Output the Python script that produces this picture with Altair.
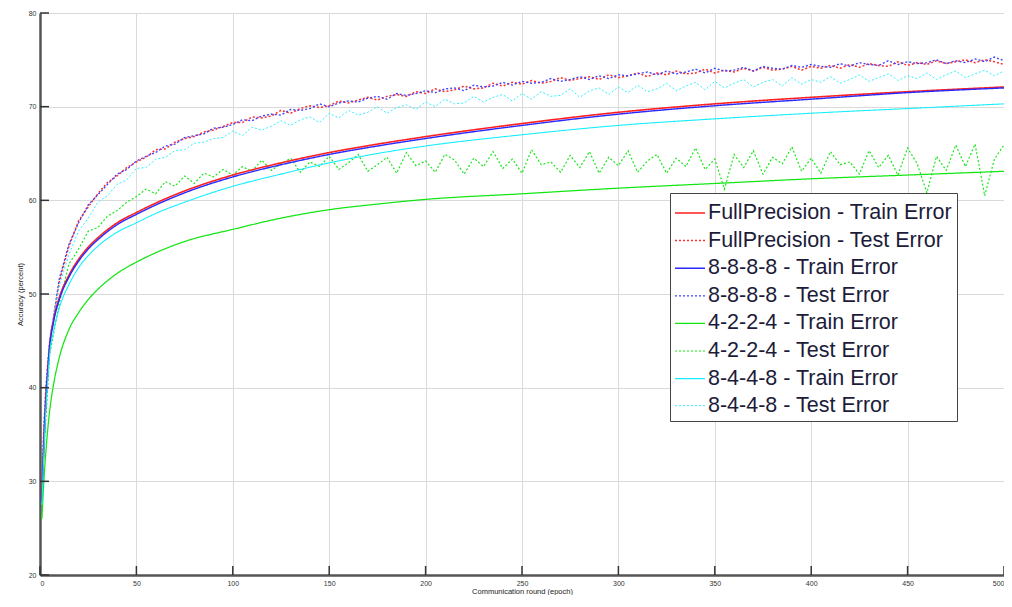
import altair as alt
import pandas as pd

# ---------------- data ----------------
SERIES = [
    "FullPrecision - Train Error",
    "FullPrecision - Test Error",
    "8-8-8-8 - Train Error",
    "8-8-8-8 - Test Error",
    "4-2-2-4 - Train Error",
    "4-2-2-4 - Test Error",
    "8-4-4-8 - Train Error",
    "8-4-4-8 - Test Error",
]
COLORS = ["#ff2020", "#ff3030", "#2a2aff", "#4040ff", "#14e614", "#14e614", "#14eeff", "#30f0ff"]
DASHES = [[1, 0], [2, 2], [1, 0], [2, 2], [1, 0], [2, 2], [1, 0], [2, 2]]
WIDTHS = [1.6, 1.0, 3.0, 1.0, 1.6, 1.0, 1.6, 1.0]

train_epochs = [1, 2, 3, 4, 5, 7, 10, 15, 20, 25, 30, 40, 50, 60, 75, 100, 125, 150, 175, 200,
                250, 300, 350, 400, 450, 500]
fp_train = [28.0, 34.0, 38.5, 41.7, 44.5, 47.2, 49.6, 52.0, 53.7, 55.0, 56.0, 57.6, 58.7, 59.7, 61.0,
            62.7, 64.0, 65.1, 66.0, 66.8, 68.2, 69.4, 70.3, 71.0, 71.6, 72.1]
b8_train = [27.8, 33.8, 38.3, 41.5, 44.3, 47.0, 49.4, 51.8, 53.5, 54.8, 55.8, 57.4, 58.5, 59.5, 60.8,
            62.5, 63.8, 64.9, 65.8, 66.6, 68.0, 69.2, 70.1, 70.8, 71.5, 72.0]
g4_train = [26.0, 30.0, 33.0, 35.5, 37.5, 40.3, 43.2, 46.2, 48.0, 49.4, 50.5, 52.2, 53.4, 54.4, 55.6,
            56.9, 58.1, 59.0, 59.6, 60.1, 60.7, 61.3, 61.8, 62.3, 62.7, 63.1]
c8_train = [27.5, 33.0, 37.5, 40.7, 43.5, 46.0, 48.5, 51.0, 52.8, 54.1, 55.1, 56.6, 57.6, 58.6, 59.8,
            61.5, 62.8, 64.0, 65.0, 65.8, 67.0, 68.0, 68.7, 69.3, 69.8, 70.3]

test_epochs = [1, 2, 3, 4] + list(range(5, 501, 5))
fp_test = [29.5, 35.5, 39.5, 42.3,
    44.6, 51.3, 55.1, 57.8, 59.3, 60.7, 61.9, 62.6, 63.5, 64.1, 64.6, 65.4, 65.5, 66.2, 66.6, 66.8, 67.3, 67.5, 67.9,
    68.3, 68.3, 68.9, 68.8, 69.0, 69.6, 69.3, 69.8, 70.1, 69.9,
    70.1, 70.6, 70.4, 70.7, 71.0, 70.7, 71.1, 71.3, 71.1, 71.6,
    71.4, 71.9, 71.6, 71.8, 72.2, 71.9, 72.0, 72.5, 72.2, 72.6,
    72.4, 72.8, 72.5, 72.7, 73.1, 72.8, 73.0, 73.2, 72.9, 73.4,
    73.1, 73.3, 73.6, 73.2, 73.6, 73.4, 73.8, 73.5, 73.6, 74.0,
    73.6, 73.9, 73.7, 74.1, 73.8, 74.2, 73.9, 74.0, 74.3, 73.9,
    74.3, 74.1, 74.4, 74.1, 74.5, 74.2, 74.6, 74.4, 74.3, 74.8,
    74.4, 74.7, 74.5, 74.9, 74.6, 74.8, 75.0, 74.7, 75.0, 74.8,
    74.5]
b8_test = [29.8, 35.8, 39.8, 42.6,
    44.9, 51.6, 55.3, 57.6, 59.5, 60.6, 61.7, 62.8, 63.3, 64.2, 64.7, 65.1, 65.8, 66.0, 66.7, 66.9, 67.1, 67.7, 67.8,
    68.1, 68.6, 68.5, 69.0, 69.2, 69.1, 69.7, 69.6, 69.8, 70.3,
    70.0, 70.4, 70.6, 70.5, 70.9, 71.1, 70.8, 71.4, 71.2, 71.4,
    71.7, 71.5, 71.9, 72.0, 71.7, 72.3, 72.1, 72.2, 72.6, 72.3,
    72.7, 72.5, 72.6, 73.0, 72.7, 72.9, 73.2, 72.9, 73.3, 73.0,
    73.4, 73.3, 73.5, 73.7, 73.4, 73.8, 73.5, 73.7, 74.0, 73.6,
    74.1, 73.8, 73.9, 74.2, 73.8, 74.3, 74.1, 74.0, 74.4, 74.2,
    74.5, 74.3, 74.2, 74.6, 74.3, 74.7, 74.5, 74.4, 74.9, 74.5,
    74.8, 74.6, 74.7, 75.0, 74.6, 74.9, 74.7, 75.1, 74.8, 75.3,
    74.9]
g4_test = [27.5, 32.5, 36.5, 40.0,
    43.5, 49.0, 53.2, 54.8, 56.7, 57.1, 58.3, 58.9, 59.8, 60.4, 61.2, 60.7, 62.0, 61.5, 62.6, 61.8, 62.9, 62.5, 63.3,
    62.7, 63.6, 63.1, 64.3, 63.2, 63.9, 64.5, 63.0, 64.1, 63.6,
    64.7, 63.3, 64.0, 64.9, 63.1, 63.8, 64.6, 62.9, 65.1, 63.7,
    64.2, 63.0, 64.9, 64.3, 62.8, 64.5, 63.6, 65.2, 63.4, 64.4,
    62.9, 65.4, 63.8, 64.1, 63.0, 64.8, 63.5, 65.2, 62.9, 64.6,
    63.7, 65.3, 63.0, 64.2, 64.9, 62.9, 64.5, 63.6, 65.6, 63.3,
    64.4, 61.2, 64.9, 63.5, 65.3, 62.8, 64.6, 63.9, 65.7, 63.1,
    64.5, 62.9, 65.2, 63.8, 64.1, 62.8, 65.3, 63.5, 64.8, 62.7,
    65.6, 63.9, 60.8, 64.7, 63.2, 65.9, 63.6, 66.0, 60.5, 64.4,
    65.9]
c8_test = [29.0, 35.0, 39.0, 42.0,
    45.3, 50.9, 54.2, 56.7, 58.1, 59.8, 60.5, 61.7, 62.2, 63.4, 63.5, 64.4, 64.6, 65.3, 65.4, 66.1, 66.2, 66.6, 66.7,
    67.4, 66.9, 67.8, 67.5, 67.9, 68.5, 68.0, 68.6, 68.9, 68.3,
    69.3, 68.8, 69.6, 69.1, 69.4, 70.0, 69.3, 69.9, 70.2, 69.7,
    70.5, 70.0, 70.8, 70.3, 70.4, 71.1, 70.5, 71.0, 71.3, 70.6,
    71.4, 70.8, 71.6, 71.1, 71.2, 71.9, 71.0, 71.7, 72.0, 71.3,
    72.1, 71.5, 72.3, 71.6, 71.9, 72.5, 71.7, 72.2, 72.6, 71.8,
    72.7, 72.0, 72.5, 72.9, 72.1, 72.6, 72.9, 72.2, 73.1, 72.4,
    72.9, 72.6, 73.2, 72.5, 72.9, 73.4, 72.7, 73.1, 73.5, 72.8,
    73.3, 73.0, 73.6, 72.9, 73.4, 73.8, 73.1, 73.5, 73.9, 73.3,
    73.8]

x_ticks = [0, 50, 100, 150, 200, 250, 300, 350, 400, 450, 500]
y_ticks = [20, 30, 40, 50, 60, 70, 80]

# ---------------- build tables ----------------
rows = []
for name, vals in [(SERIES[0], fp_train), (SERIES[2], b8_train), (SERIES[4], g4_train), (SERIES[6], c8_train)]:
    for e, v in zip(train_epochs, vals):
        rows.append({"epoch": e, "acc": v, "series": name, "kind": "train"})
for name, vals in [(SERIES[1], fp_test), (SERIES[3], b8_test), (SERIES[5], g4_test), (SERIES[7], c8_test)]:
    for e, v in zip(test_epochs, vals):
        rows.append({"epoch": e, "acc": v, "series": name, "kind": "test"})
df = pd.DataFrame(rows)

draw_order = {SERIES[5]: 0, SERIES[4]: 1, SERIES[7]: 2, SERIES[6]: 3,
              SERIES[1]: 4, SERIES[3]: 5, SERIES[2]: 6, SERIES[0]: 7}
df["ord"] = df["series"].map(draw_order)

W, H = 964, 562
xscale = alt.Scale(domain=[0, 500], nice=False, zero=False)
yscale = alt.Scale(domain=[20, 80], nice=False, zero=False)

legend = alt.Legend(
    title=None, orient="none", legendX=630, legendY=180,
    symbolType="stroke", symbolSize=900, labelFontSize=21.5, labelFont="Liberation Sans",
    labelColor="#1c1c3a", labelLimit=400, strokeColor="#444444", fillColor="white",
    padding=4, rowPadding=0.6, symbolOffset=0, labelOffset=2,
)

enc = dict(
    x=alt.X("epoch:Q", scale=xscale,
            axis=alt.Axis(values=x_ticks, title="Communication round (epoch)")),
    y=alt.Y("acc:Q", scale=yscale,
            axis=alt.Axis(values=y_ticks, title="Accuracy (percent)")),
    color=alt.Color("series:N", scale=alt.Scale(domain=SERIES, range=COLORS), legend=legend),
    strokeDash=alt.StrokeDash("series:N", scale=alt.Scale(domain=SERIES, range=DASHES), legend=legend),
    strokeWidth=alt.StrokeWidth("series:N", scale=alt.Scale(domain=SERIES, range=WIDTHS), legend=legend),
    order=alt.Order("ord:Q"),
)

base = alt.Chart(df)
test_lines = base.transform_filter(alt.datum.kind == "test").mark_line().encode(**enc)
train_lines = base.transform_filter(alt.datum.kind == "train").mark_line(interpolate="monotone").encode(**enc)

xt = pd.DataFrame({"t": x_ticks})
yt = pd.DataFrame({"t": y_ticks})
xtick_marks = alt.Chart(xt).mark_rule(color="#333333", strokeWidth=1.5).encode(
    x=alt.X("t:Q", scale=xscale), y=alt.value(H), y2=alt.value(H - 9))
ytick_marks = alt.Chart(yt).mark_rule(color="#333333", strokeWidth=1.5).encode(
    y=alt.Y("t:Q", scale=yscale), x=alt.value(0), x2=alt.value(9))

chart = alt.layer(test_lines, train_lines, xtick_marks, ytick_marks).resolve_scale(
    color="shared", strokeDash="shared", strokeWidth="shared"
).properties(
    width=W, height=H,
    autosize=alt.AutoSizeParams(type="none"),
    padding={"left": 32, "top": 5, "right": 0, "bottom": 20},
).configure_view(
    stroke="#a8a8a8", strokeWidth=1
).configure_axis(
    grid=True, gridColor="#dadada", gridWidth=1,
    domainColor="#555555", domainWidth=2.5, ticks=False,
    labelFontSize=7, labelColor="#333333", labelFont="Liberation Sans", labelPadding=4,
    titleFontSize=7.5, titleFontWeight="normal", titleColor="#222222", titleFont="Liberation Sans",
).configure_axisX(titlePadding=1).configure_axisY(titlePadding=4)

chart.save("out.html", embed_options={"renderer": "svg", "actions": False})
